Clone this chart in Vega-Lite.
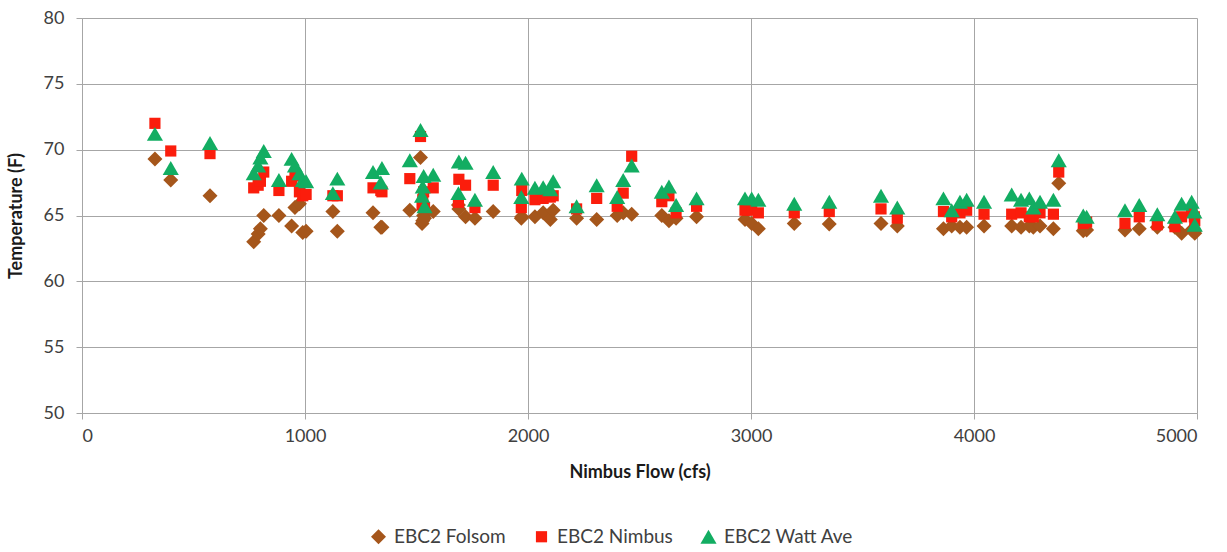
{
  "$schema": "https://vega.github.io/schema/vega-lite/v6.json",
  "autosize": "none",
  "padding": {"left": 82, "top": 18, "right": 30, "bottom": 139},
  "width": 1115,
  "height": 395,
  "background": "white",
  "config": {
    "view": {"stroke": null},
    "font": "Lato",
    "axis": {
      "labelFont": "Lato",
      "titleFont": "Lato",
      "labelFontSize": 18,
      "labelColor": "#404040",
      "titleFontSize": 18,
      "titleFontWeight": "bold",
      "titleColor": "#1a1a1a",
      "gridColor": "#a6a6a6",
      "gridWidth": 1,
      "domainColor": "#a6a6a6",
      "tickColor": "#a6a6a6",
      "tickSize": 6
    },
    "legend": {
      "labelFont": "Lato",
      "labelFontSize": 19,
      "labelColor": "#404040"
    }
  },
  "data": {
    "values": [
      {"flow": 327, "F": 69.3, "N": 72.0, "W": 71.2},
      {"flow": 398, "F": 67.7, "N": 69.9, "W": 68.6},
      {"flow": 574, "F": 66.5, "N": 69.7, "W": 70.5},
      {"flow": 770, "F": 63.0, "N": 67.1, "W": 68.2},
      {"flow": 790, "F": 63.6, "N": 67.3, "W": 68.8},
      {"flow": 800, "F": 64.0, "N": 67.6, "W": 69.4},
      {"flow": 815, "F": 65.0, "N": 68.3, "W": 69.9},
      {"flow": 883, "F": 65.0, "N": 66.9, "W": 67.7},
      {"flow": 940, "F": 64.2, "N": 67.6, "W": 69.3},
      {"flow": 955, "F": 65.6, "N": 68.0, "W": 68.8},
      {"flow": 975, "F": 65.9, "N": 66.8, "W": 68.2},
      {"flow": 990, "F": 63.7, "N": 66.5, "W": 67.7},
      {"flow": 1005, "F": 63.8, "N": 66.6, "W": 67.6},
      {"flow": 1125, "F": 65.3, "N": 66.5, "W": 66.7},
      {"flow": 1145, "F": 63.8, "N": 66.5, "W": 67.8},
      {"flow": 1305, "F": 65.2, "N": 67.1, "W": 68.3},
      {"flow": 1340, "F": 64.1, "N": 66.9, "W": 67.5},
      {"flow": 1345, "F": 64.1, "N": 66.8, "W": 68.6},
      {"flow": 1470, "F": 65.4, "N": 67.8, "W": 69.2},
      {"flow": 1518, "F": 69.4, "N": 71.0, "W": 71.5},
      {"flow": 1525, "F": 64.4, "N": 65.8, "W": 66.5},
      {"flow": 1528, "F": 64.6, "N": 66.2, "W": 67.2},
      {"flow": 1532, "F": 65.0, "N": 66.8, "W": 68.0},
      {"flow": 1536, "F": 64.8, "N": 65.6, "W": 65.7},
      {"flow": 1575, "F": 65.3, "N": 67.1, "W": 68.1},
      {"flow": 1688, "F": 65.8, "N": 66.0, "W": 66.7},
      {"flow": 1690, "F": 65.5, "N": 67.75, "W": 69.1},
      {"flow": 1720, "F": 64.9, "N": 67.3, "W": 69.0},
      {"flow": 1762, "F": 64.8, "N": 65.6, "W": 66.2},
      {"flow": 1844, "F": 65.3, "N": 67.3, "W": 68.3},
      {"flow": 1970, "F": 64.8, "N": 65.6, "W": 66.4},
      {"flow": 1972, "F": 64.9, "N": 66.9, "W": 67.8},
      {"flow": 2031, "F": 64.9, "N": 66.2, "W": 67.1},
      {"flow": 2068, "F": 65.2, "N": 66.3, "W": 67.15},
      {"flow": 2100, "F": 64.7, "N": 66.4, "W": 67.0},
      {"flow": 2113, "F": 65.4, "N": 66.5, "W": 67.6},
      {"flow": 2218, "F": 64.8, "N": 65.5, "W": 65.7},
      {"flow": 2308, "F": 64.7, "N": 66.3, "W": 67.3},
      {"flow": 2400, "F": 65.0, "N": 65.7, "W": 66.4},
      {"flow": 2427, "F": 65.2, "N": 66.7, "W": 67.7},
      {"flow": 2465, "F": 65.1, "N": 69.5, "W": 68.8},
      {"flow": 2600, "F": 65.0, "N": 66.05, "W": 66.8},
      {"flow": 2632, "F": 64.6, "N": 66.5, "W": 67.2},
      {"flow": 2664, "F": 64.8, "N": 65.2, "W": 65.8},
      {"flow": 2756, "F": 64.9, "N": 65.7, "W": 66.3},
      {"flow": 2973, "F": 64.7, "N": 65.4, "W": 66.3},
      {"flow": 3003, "F": 64.4, "N": 65.4, "W": 66.3},
      {"flow": 3033, "F": 64.0, "N": 65.2, "W": 66.2},
      {"flow": 3194, "F": 64.4, "N": 65.2, "W": 65.9},
      {"flow": 3351, "F": 64.35, "N": 65.3, "W": 66.05},
      {"flow": 3583, "F": 64.4, "N": 65.5, "W": 66.5},
      {"flow": 3656, "F": 64.2, "N": 64.8, "W": 65.6},
      {"flow": 3863, "F": 64.0, "N": 65.3, "W": 66.3},
      {"flow": 3900, "F": 64.2, "N": 64.9, "W": 65.4},
      {"flow": 3937, "F": 64.1, "N": 65.2, "W": 66.05},
      {"flow": 3967, "F": 64.1, "N": 65.4, "W": 66.2},
      {"flow": 4045, "F": 64.2, "N": 65.1, "W": 66.05},
      {"flow": 4169, "F": 64.2, "N": 65.1, "W": 66.6},
      {"flow": 4211, "F": 64.1, "N": 65.2, "W": 66.2},
      {"flow": 4248, "F": 64.2, "N": 64.9, "W": 66.3},
      {"flow": 4266, "F": 64.1, "N": 64.9, "W": 65.6},
      {"flow": 4296, "F": 64.2, "N": 65.2, "W": 66.05},
      {"flow": 4356, "F": 64.0, "N": 65.1, "W": 66.2},
      {"flow": 4380, "F": 67.45, "N": 68.3, "W": 69.2},
      {"flow": 4490, "F": 63.85, "N": 64.4, "W": 65.0},
      {"flow": 4505, "F": 63.9, "N": 64.5, "W": 64.9},
      {"flow": 4677, "F": 63.9, "N": 64.4, "W": 65.4},
      {"flow": 4741, "F": 64.0, "N": 64.9, "W": 65.8},
      {"flow": 4822, "F": 64.1, "N": 64.3, "W": 65.1},
      {"flow": 4901, "F": 64.1, "N": 64.15, "W": 64.9},
      {"flow": 4931, "F": 63.65, "N": 64.9, "W": 65.9},
      {"flow": 4976, "F": 63.9, "N": 65.3, "W": 66.05},
      {"flow": 4988, "F": 63.8, "N": 64.9, "W": 65.3},
      {"flow": 4990, "F": 63.65, "N": 64.6, "W": 64.3}
    ]
  },
  "transform": [
    {"fold": ["F", "N", "W"], "as": ["key", "temp"]},
    {"lookup": "key", "from": {"data": {"values": [
      {"key": "F", "series": "EBC2 Folsom"},
      {"key": "N", "series": "EBC2 Nimbus"},
      {"key": "W", "series": "EBC2 Watt Ave"}
    ]}, "key": "key", "fields": ["series"]}}
  ],
  "mark": {"type": "point", "filled": true, "opacity": 1},
  "encoding": {
    "x": {
      "field": "flow", "type": "quantitative",
      "scale": {"domain": [0, 5000], "nice": false},
      "axis": {"values": [0, 1000, 2000, 3000, 4000, 5000], "format": "d", "title": "Nimbus Flow (cfs)", "titlePadding": 18, "labelPadding": 8, "grid": true}
    },
    "y": {
      "field": "temp", "type": "quantitative",
      "scale": {"domain": [50, 80], "nice": false, "zero": false},
      "axis": {"values": [50, 55, 60, 65, 70, 75, 80], "title": "Temperature (F)", "titlePadding": 18, "labelPadding": 12, "grid": true}
    },
    "color": {
      "field": "series", "type": "nominal",
      "scale": {"domain": ["EBC2 Folsom", "EBC2 Nimbus", "EBC2 Watt Ave"], "range": ["#a5561b", "#fb1d0c", "#12ad62"]},
      "legend": {"title": null, "orient": "none", "direction": "horizontal", "legendX": 287, "legendY": 509, "columnPadding": 26, "labelOffset": 6,
        "symbolSize": 110,
        "encode": {"symbols": {"update": {"size": {"value": 110}}}}}
    },
    "shape": {
      "field": "series", "type": "nominal",
      "scale": {"domain": ["EBC2 Folsom", "EBC2 Nimbus", "EBC2 Watt Ave"], "range": ["diamond", "square", "triangle-up"]},
      "legend": null
    },
    "size": {
      "field": "series", "type": "nominal",
      "scale": {"type": "ordinal", "domain": ["EBC2 Folsom", "EBC2 Nimbus", "EBC2 Watt Ave"], "range": [225, 125, 260]},
      "legend": null
    },
    "order": {"field": "key", "type": "ordinal"}
  }
}
